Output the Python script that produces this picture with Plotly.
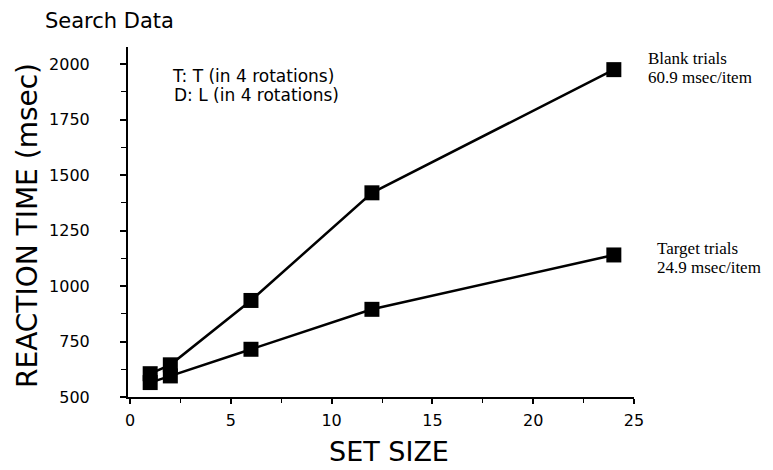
import plotly.graph_objects as go

# ---- data ----
set_size = [1, 2, 6, 12, 24]
blank_rt = [605, 645, 935, 1420, 1975]
target_rt = [565, 595, 715, 895, 1140]
x_ticks = [0, 5, 10, 15, 20, 25]
y_ticks = [500, 750, 1000, 1250, 1500, 1750, 2000]

fig = go.Figure()
for ys, name in [(blank_rt, "Blank trials"), (target_rt, "Target trials")]:
    fig.add_trace(go.Scatter(
        x=set_size, y=ys, mode="lines+markers", name=name,
        line=dict(color="black", width=2.5),
        marker=dict(symbol="square", size=15, color="black"),
        showlegend=False,
    ))

L, R, T, B = 128, 139, 47, 73
W, H = 773, 470
pw, ph = W - L - R, H - T - B

def px(xp):
    return (xp - L) / pw

def py(yp):
    return (H - B - yp) / ph

sans = "DejaVu Sans"
serif = "Liberation Serif"

ann = []
def add(text, xp, yp, size, family=sans, xanchor="left", textangle=0, color="black"):
    ann.append(dict(text=text, x=px(xp), y=py(yp), xref="paper", yref="paper",
                    xanchor=xanchor, yanchor="middle", showarrow=False,
                    textangle=textangle, borderpad=0,
                    font=dict(family=family, size=size, color=color)))

add("Search Data", 44, 21, 21)
add("T: T (in 4 rotations)", 171, 76, 17)
add("D: L (in 4 rotations)", 173, 95, 17)
add("Blank trials", 647, 58, 17, family=serif)
add("60.9 msec/item", 647, 78, 17, family=serif)
add("Target trials", 656, 248, 17, family=serif)
add("24.9 msec/item", 656, 267, 17, family=serif)
add("SET SIZE", 389, 452, 27, xanchor="center")
add("REACTION TIME (msec)", 27, 226, 28, xanchor="center", textangle=-90)

fig.update_layout(
    width=W, height=H,
    margin=dict(l=L, r=R, t=T, b=B),
    paper_bgcolor="white", plot_bgcolor="white",
    annotations=ann,
    xaxis=dict(
        range=[-0.1, 25], tickvals=x_ticks, ticks="outside", ticklen=5, tickwidth=1.5,
        tickcolor="black", showline=True, linecolor="black", linewidth=2,
        showgrid=False, zeroline=False,
        minor=dict(dtick=2.5, ticks="outside", ticklen=4, tickcolor="black", tickwidth=1.2),
        tickfont=dict(family=sans, size=16, color="black"),
        ticklabelstandoff=3,
    ),
    yaxis=dict(
        range=[500, 2077], tickvals=y_ticks, ticks="outside", ticklen=6, tickwidth=1.5,
        tickcolor="black", showline=True, linecolor="black", linewidth=2,
        showgrid=False, zeroline=False,
        minor=dict(dtick=125, ticks="outside", ticklen=5, tickcolor="black", tickwidth=1.2),
        tickfont=dict(family=sans, size=16, color="black"),
        ticklabelstandoff=27,
    ),
)

fig.write_html("out.html", config={"displayModeBar": False},
               post_script="document.body.style.margin='0';")
